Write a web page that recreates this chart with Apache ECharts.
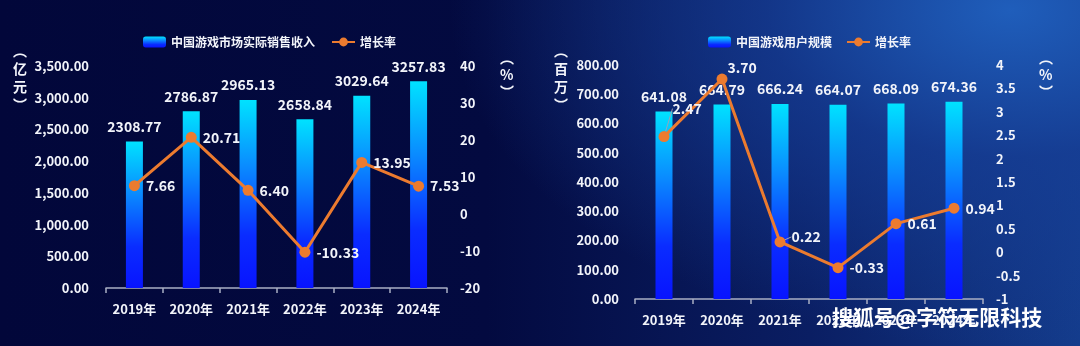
<!DOCTYPE html>
<html><head><meta charset="utf-8">
<script src="https://cdn.jsdelivr.net/npm/echarts@6/dist/echarts.min.js"></script>
<style>
html,body{margin:0;padding:0;width:1080px;height:346px;overflow:hidden;
background:
 radial-gradient(ellipse 700px 420px at 1010px 10px, rgba(32,96,190,0.95) 0%, rgba(22,62,150,0.75) 35%, rgba(8,20,80,0) 80%),
 linear-gradient(90deg,#02073a 0%,#030a40 45%,#0a1e63 75%,#143c8c 100%);}
#c{width:1080px;height:346px;}
</style></head><body><div id="c"></div>
<script>
const years = ['2019年','2020年','2021年','2022年','2023年','2024年'];
const revenue = [2308.77, 2786.87, 2965.13, 2658.84, 3029.64, 3257.83];
const revenueGrowth = [7.66, 20.71, 6.40, -10.33, 13.95, 7.53];
const users = [641.08, 664.79, 666.24, 664.07, 668.09, 674.36];
const usersGrowth = [2.47, 3.70, 0.22, -0.33, 0.61, 0.94];
const revenueName = '中国游戏市场实际销售收入';
const usersName = '中国游戏用户规模';
const growthName = '增长率';

const FONT = '"Noto Sans CJK SC","Noto Sans",sans-serif';
const W = '#f2f4fa';
const ORANGE = '#ec7b2f';
const barColor = new echarts.graphic.LinearGradient(0,0,0,1,[
  {offset:0,color:'#00e2ff'},{offset:0.35,color:'#0a8cff'},{offset:0.72,color:'#0a2cff'},{offset:1,color:'#0814ff'}]);
const txt = {color:W,fontFamily:FONT,fontWeight:'bold',fontSize:13};

function yAx(gi,min,max,interval,fmt,margin){
  return {gridIndex:gi,type:'value',min,max,interval,splitLine:{show:false},
    axisLine:{show:false},axisTick:{show:false},
    axisLabel:Object.assign({margin,formatter:fmt},txt)};
}
const f2 = v => v.toLocaleString('en-US',{minimumFractionDigits:2,maximumFractionDigits:2});
const f2n = v => v.toFixed(2);

// label nudges (pixels) for the user-growth line labels
const usersLabelShift = {0:{dx:-3,dy:-28}, 1:{dx:-6,dy:-11}, 2:{dx:0,dy:-5}};
const usersLabelGuide = [true,false,true,false,false,false];

const chart = echarts.init(document.getElementById('c'));
chart.setOption({
  backgroundColor:'transparent',
  animation:false,
  textStyle:{fontFamily:FONT},
  legend:[
    {data:[revenueName,growthName],left:138,top:31,itemWidth:23,itemHeight:11,itemGap:16,
     textStyle:Object.assign({},txt,{fontSize:12})},
    {data:[usersName,growthName+' '],left:703,top:31,itemWidth:23,itemHeight:11,itemGap:14,
     textStyle:Object.assign({},txt,{fontSize:12}),
     formatter:n=>n.trim()}
  ],
  grid:[
    {left:106,right:633,top:66,bottom:58},
    {left:635,right:97,top:65,bottom:47}
  ],
  xAxis:[0,1].map(i=>({gridIndex:i,type:'category',data:years,
    axisLine:{lineStyle:{color:'#a9afc4',width:1.5}},
    axisTick:{show:true,length:5,lineStyle:{color:'#a9afc4',width:1.5}},
    axisLabel:Object.assign({margin:15},txt)})),
  yAxis:[
    yAx(0,0,3500,500,f2,17),
    yAx(0,-20,40,10,null,13),
    yAx(1,0,800,100,f2n,16),
    yAx(1,-1,4,0.5,null,13)
  ],
  series:[
    {name:revenueName,type:'bar',xAxisIndex:0,yAxisIndex:0,data:revenue,barWidth:17,
     itemStyle:{color:barColor},
     label:Object.assign({show:true,position:'top',distance:8,formatter:p=>p.value.toFixed(2)},txt,{fontSize:14})},
    {name:growthName,type:'line',xAxisIndex:0,yAxisIndex:1,data:revenueGrowth,
     symbol:'circle',symbolSize:11,lineStyle:{color:ORANGE,width:3},itemStyle:{color:ORANGE},
     label:Object.assign({show:true,position:'right',distance:6,formatter:p=>p.value.toFixed(2)},txt,{fontSize:14})},
    {name:usersName,type:'bar',xAxisIndex:1,yAxisIndex:2,data:users,barWidth:17,
     itemStyle:{color:barColor},
     label:Object.assign({show:true,position:'top',distance:8,formatter:p=>p.value.toFixed(2)},txt,{fontSize:14})},
    {name:growthName+' ',type:'line',xAxisIndex:1,yAxisIndex:3,
     data:usersGrowth.map((v,i)=>({value:v,labelLine:{show:usersLabelGuide[i]}})),
     symbol:'circle',symbolSize:11,lineStyle:{color:ORANGE,width:3},itemStyle:{color:ORANGE},
     labelLine:{show:false,lineStyle:{color:'#9aa2b8',width:1}},
     labelLayout:p=>usersLabelShift[p.dataIndex]||{},
     label:Object.assign({show:true,position:'right',distance:6,formatter:p=>p.value.toFixed(2)},txt,{fontSize:14})}
  ],
  graphic:[
    {type:'text',left:13,top:42,style:{text:'︵\n亿\n元\n︶',fill:W,font:'bold 14px '+FONT,lineHeight:18}},
    {type:'text',left:500,top:49,style:{text:'︵\n%\n︶',fill:W,font:'bold 14px '+FONT,lineHeight:17}},
    {type:'text',left:554,top:42,style:{text:'︵\n百\n万\n︶',fill:W,font:'bold 14px '+FONT,lineHeight:18}},
    {type:'text',left:1039,top:49,style:{text:'︵\n%\n︶',fill:W,font:'bold 14px '+FONT,lineHeight:17}},
    {type:'text',left:832,top:307,z:100,style:{text:'搜狐号@字符无限科技',fill:'#ffffff',
      font:'bold 21px '+FONT,textShadowColor:'#000',textShadowBlur:0,textShadowOffsetX:2,textShadowOffsetY:2}}
  ]
});
</script></body></html>
